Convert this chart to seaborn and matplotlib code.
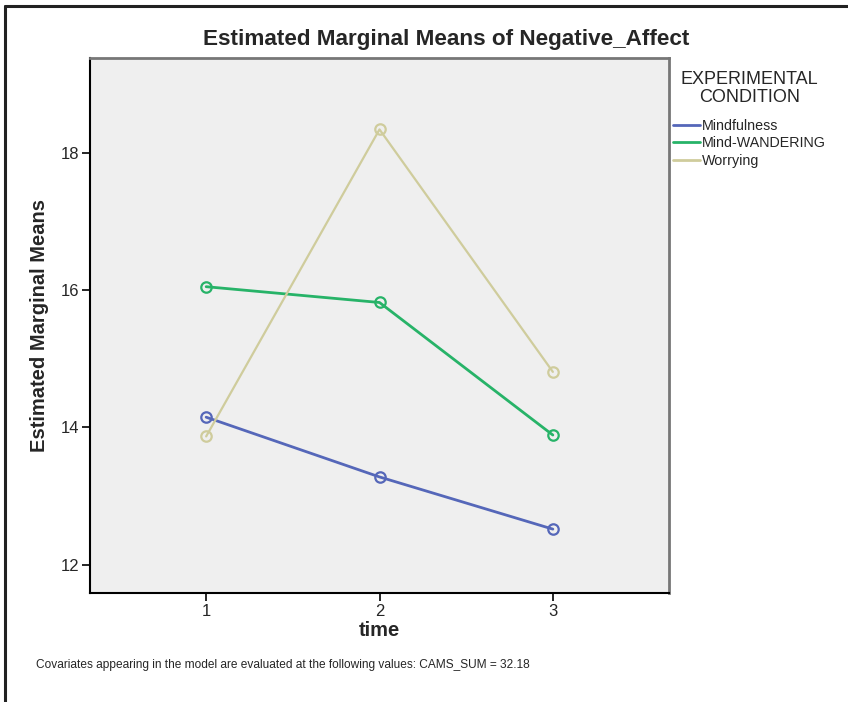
import pandas as pd
import numpy as np
import matplotlib
matplotlib.use("Agg")
import matplotlib.pyplot as plt
from matplotlib.lines import Line2D
import seaborn as sns

# values
time_points = [1, 2, 3]
conditions = ["Mindfulness", "Mind-WANDERING", "Worrying"]
mindfulness = [14.15, 13.28, 12.52]
mind_wandering = [16.05, 15.82, 13.89]
worrying = [13.87, 18.34, 14.81]
y_ticks = [12, 14, 16, 18]

colors = {"Mindfulness": "#5567b9", "Mind-WANDERING": "#27b368", "Worrying": "#cfcc9c"}

df = pd.DataFrame({
    "time": time_points * 3,
    "mean": mindfulness + mind_wandering + worrying,
    "condition": np.repeat(conditions, 3),
})

sns.set_style("white")
plt.rcParams["font.family"] = ["Liberation Sans", "DejaVu Sans"]

fig = plt.figure(figsize=(8.48, 7.02), dpi=100)
W, H = 848, 702
ax = fig.add_axes([90 / W, 1 - 593 / H, (669 - 90) / W, (593 - 58) / H])
ax.set_facecolor("#efefef")

sns.lineplot(data=df, x="time", y="mean", hue="condition", palette=colors,
             marker="o", markersize=7.5, markerfacecolor="none", linewidth=2,
             legend=False, ax=ax)
for line, cond in zip(ax.get_lines(), conditions):
    line.set_markeredgecolor(colors[cond])
    line.set_markeredgewidth(1.6)
    if cond == "Worrying":
        line.set_linewidth(1.6)

ax.set_xlim(0.33, 3.67)
ax.set_ylim(11.59, 19.38)
ax.set_xticks(time_points)
ax.set_yticks(y_ticks)
ax.tick_params(axis="both", direction="out", length=6, width=1.2, color="black",
               labelsize=12, pad=2, left=True, bottom=True)
for s in ["left", "bottom"]:
    ax.spines[s].set_color("black")
    ax.spines[s].set_linewidth(1.5)
for s in ["top", "right"]:
    ax.spines[s].set_color("#777777")
    ax.spines[s].set_linewidth(2)

ax.set_xlabel("time", fontsize=14.5, fontweight="bold", labelpad=1)
ax.set_ylabel("Estimated Marginal Means", fontsize=14.5, fontweight="bold", labelpad=8)

fig.text(446 / W, 1 - 40 / H, "Estimated Marginal Means of Negative_Affect",
         ha="center", va="center", fontsize=16.2, fontweight="bold")
fig.text(36 / W, 1 - 665 / H,
         "Covariates appearing in the model are evaluated at the following values: CAMS_SUM = 32.18",
         ha="left", va="center", fontsize=8.6)

handles = [Line2D([], [], color=colors[c], linewidth=2) for c in conditions]
leg = fig.legend(handles, conditions, title="EXPERIMENTAL\nCONDITION",
                 loc="upper left", bbox_to_anchor=(660 / W, 1 - 58 / H),
                 frameon=False, fontsize=10.3, title_fontsize=13,
                 handlelength=1.9, handletextpad=0.15, labelspacing=0.25)
leg.get_title().set_multialignment("center")
leg.get_title().set_linespacing(1.05)
leg._legend_box.sep = 9.5

# outer frame of the figure (left and top only)
fig.add_artist(Line2D([5 / W, 5 / W], [0, 1 - 6 / H], color="#222222", linewidth=2.2))
fig.add_artist(Line2D([5 / W, 1], [1 - 6 / H, 1 - 6 / H], color="#222222", linewidth=2.2))

plt.savefig("out.png", dpi=100)
